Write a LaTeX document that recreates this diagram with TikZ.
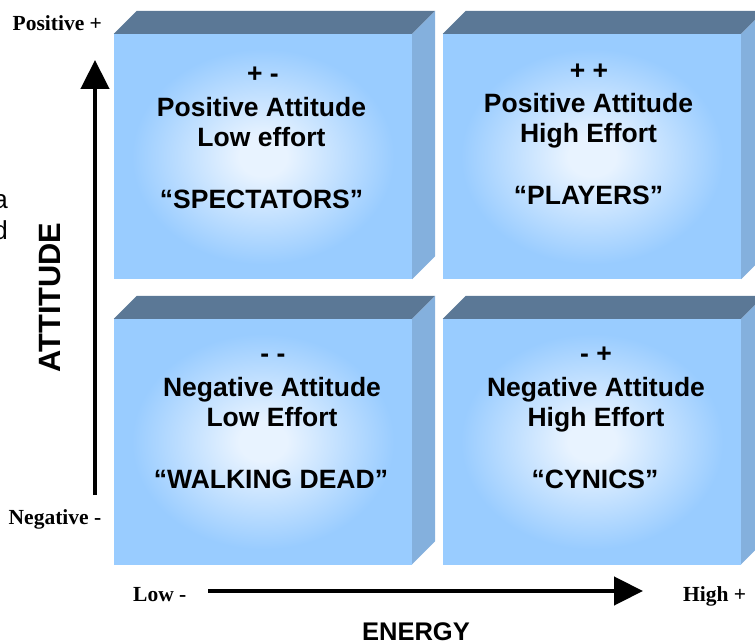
\documentclass[tikz,border=0pt]{standalone}
\usepackage{fontspec}
\setmainfont{Liberation Serif}
\setsansfont{Liberation Sans}
\usetikzlibrary{arrows.meta}

% face colours of the blocks
\definecolor{facec}{HTML}{99CCFF}
\definecolor{glowc}{HTML}{E8F3FF}
\definecolor{topc}{HTML}{5B7896}
\definecolor{sidec}{HTML}{84B0DD}

% soft light glow in the middle of each front face
\pgfdeclareradialshading{boxglow}{\pgfpoint{0bp}{0bp}}{%
  color(0bp)=(glowc); color(4bp)=(glowc); color(22bp)=(facec); color(50bp)=(facec)}

\begin{document}
\begin{tikzpicture}[x=1pt,y=-1pt,
  face/.style={shade, shading=boxglow, inner sep=0pt,
    minimum width=298pt, minimum height=245pt},
  topface/.style={fill=topc},
  sideface/.style={fill=sidec},
  boxtext/.style={font=\sffamily\bfseries\fontsize{26.5}{30}\selectfont,
    anchor=base, inner sep=0pt},
  axislabel/.style={font=\rmfamily\bfseries\fontsize{21.5}{24}\selectfont,
    inner sep=0pt},
  axistitle/.style={inner sep=0pt, anchor=base},
  axisarrow/.style={line width=4.5pt, -{Triangle[length=29pt,width=28pt]}},
  clipped/.style={font=\sffamily\fontsize{26}{30}\selectfont,
    anchor=base east, inner sep=0pt}
]
\useasboundingbox (0,0) rectangle (755,644);

% the four blocks: front face, top bevel, right bevel
\foreach \nm/\cx/\cy in {tl/263/156.5, tr/592/156.5, bl/263/441.5, br/592/441.5}{
  \node[face] (\nm) at (\cx,\cy) {};
  \fill[topface] (\nm.north west) -- ++(23,-23)
    -- ([shift={(23,-23)}]\nm.north east) -- (\nm.north east) -- cycle;
  \fill[sideface] (\nm.north east) -- ++(23,-23)
    -- ([shift={(23,-23)}]\nm.south east) -- (\nm.south east) -- cycle;
}

% block texts
\node[boxtext] (tl1) at (263,83)    {+ -};
\node[boxtext] (tl2) at (261.5,117) {Positive Attitude};
\node[boxtext] (tl3) at (261.5,147) {Low effort};
\node[boxtext] (tl4) at (261.5,208.5) {“SPECTATORS”};

\node[boxtext] (tr1) at (589,80)    {+ +};
\node[boxtext] (tr2) at (588.5,113) {Positive Attitude};
\node[boxtext] (tr3) at (588.5,143) {High Effort};
\node[boxtext] (tr4) at (588.5,205) {“PLAYERS”};

\node[boxtext] (bl1) at (273,362)   {- -};
\node[boxtext] (bl2) at (272,396.5) {Negative Attitude};
\node[boxtext] (bl3) at (272,426.5) {Low Effort};
\node[boxtext] (bl4) at (271,488.5) {“WALKING DEAD”};

\node[boxtext] (br1) at (596,362)   {- +};
\node[boxtext] (br2) at (596,396.5) {Negative Attitude};
\node[boxtext] (br3) at (596,426.5) {High Effort};
\node[boxtext] (br4) at (595,488.5) {“CYNICS”};

% axes
\coordinate (vfoot) at (95,495);
\coordinate (vhead) at (95,60);
\draw[axisarrow] (vfoot) -- (vhead);
\coordinate (hfoot) at (208,591);
\coordinate (hhead) at (643,591);
\draw[axisarrow] (hfoot) -- (hhead);

% axis end labels
\node[axislabel, anchor=base west] (pos)  at (12.5,30.5) {Positive +};
\node[axislabel, anchor=base west] (neg)  at (8.5,524)   {Negative -};
\node[axislabel, anchor=base west] (low)  at (133,601.5) {Low -};
\node[axislabel, anchor=base west] (high) at (683,601.5) {High +};

% axis titles
\node[axistitle, rotate=90, font=\sffamily\bfseries\fontsize{30.8}{34}\selectfont]
  (att) at (60,297.5) {ATTITUDE};
\node[axistitle, font=\sffamily\bfseries\fontsize{25.5}{30}\selectfont]
  (eng) at (416,640) {ENERGY};

% ends of a line cut by the left edge
\node[clipped] (cuta) at (8,209) {a};
\node[clipped] (cutd) at (8,240) {d};
\end{tikzpicture}
\end{document}
